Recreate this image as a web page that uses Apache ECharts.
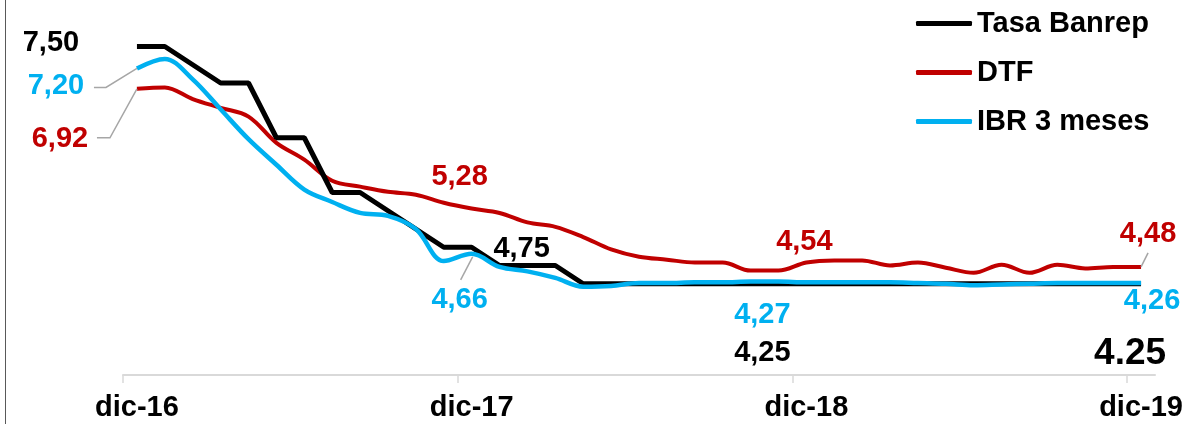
<!DOCTYPE html>
<html>
<head>
<meta charset="utf-8">
<script src="https://cdn.jsdelivr.net/npm/echarts@6/dist/echarts.min.js"></script>
<style>
html,body{margin:0;padding:0;background:#fff;}
#c{width:1204px;height:424px;}
</style>
</head>
<body>
<div id="c"></div>
<script>
// Months dic-16 .. dic-19 (monthly)
const categories = [
  'dic-16','ene-17','feb-17','mar-17','abr-17','may-17','jun-17','jul-17','ago-17','sep-17','oct-17','nov-17',
  'dic-17','ene-18','feb-18','mar-18','abr-18','may-18','jun-18','jul-18','ago-18','sep-18','oct-18','nov-18',
  'dic-18','ene-19','feb-19','mar-19','abr-19','may-19','jun-19','jul-19','ago-19','sep-19','oct-19','nov-19',
  'dic-19'
];
const tasaBanrep = [7.50,7.50,7.25,7.00,7.00,6.25,6.25,5.50,5.50,5.25,5.00,4.75,
  4.75,4.50,4.50,4.50,4.25,4.25,4.25,4.25,4.25,4.25,4.25,4.25,
  4.25,4.25,4.25,4.25,4.25,4.25,4.25,4.25,4.25,4.25,4.25,4.25,4.25];
const dtf = [6.92,6.94,6.78,6.66,6.54,6.18,5.95,5.66,5.58,5.51,5.47,5.36,
  5.28,5.22,5.09,5.03,4.89,4.72,4.62,4.58,4.54,4.54,4.43,4.43,
  4.54,4.57,4.57,4.50,4.54,4.47,4.40,4.51,4.40,4.51,4.46,4.48,4.48];
const ibr3m = [7.20,7.33,7.05,6.64,6.23,5.88,5.54,5.37,5.22,5.18,5.00,4.56,
  4.66,4.48,4.42,4.33,4.21,4.22,4.26,4.26,4.27,4.27,4.28,4.28,
  4.27,4.27,4.27,4.27,4.26,4.25,4.23,4.24,4.25,4.26,4.26,4.26,4.26];
const seriesNames = ['Tasa Banrep','DTF','IBR 3 meses'];
const tickPositions = [-0.5, 11.5, 23.5, 35.5]; // boundaries before dic-16, dic-17, dic-18, dic-19
const colors = ['#000000','#C00000','#00B0F0'];
const bigLabel = '4.25';

const FONT = '"Liberation Sans", Arial, sans-serif';
const chart = echarts.init(document.getElementById('c'), null, {renderer:'canvas'});

const option = {
  animation:false,
  backgroundColor:'#ffffff',
  grid:{left:123, right:49, top:10, bottom:49},
  legend:{
    orient:'vertical', left:916, top:9, itemGap:20, padding:0,
    itemWidth:56, itemHeight:5, icon:'roundRect',
    textStyle:{fontFamily:FONT, fontSize:29, fontWeight:'bold', color:'#000', lineHeight:29},
    data:seriesNames
  },
  xAxis:[{
    type:'category', data:categories, boundaryGap:true,
    axisLine:{lineStyle:{color:'#D9D9D9', width:2}},
    axisTick:{show:false},
    axisLabel:{interval:function(i){return i%12===0;}, margin:18,
      fontFamily:FONT, fontSize:29, fontWeight:'bold', color:'#000'}
  },{
    type:'value', min:-0.5, max:36.5, position:'bottom',
    axisLine:{show:false},
    splitLine:{show:false},
    axisLabel:{show:false},
    axisTick:{show:true, customValues:tickPositions, length:8, lineStyle:{color:'#D9D9D9', width:1.5}}
  }],
  yAxis:{type:'value', min:3, max:8, show:false, splitLine:{show:false}},
  series:[
    {name:seriesNames[0], type:'line', data:tasaBanrep, smooth:false, symbol:'none', z:3,
     lineStyle:{color:colors[0], width:5}, itemStyle:{color:colors[0]}},
    {name:seriesNames[1], type:'line', data:dtf, smooth:0.35, symbol:'none', z:2,
     lineStyle:{color:colors[1], width:4}, itemStyle:{color:colors[1]}},
    {name:seriesNames[2], type:'line', data:ibr3m, smooth:0.35, symbol:'none', z:4,
     lineStyle:{color:colors[2], width:4.5}, itemStyle:{color:colors[2]}}
  ]
};
chart.setOption(option);

// Data labels positioned relative to the data points
const labels = [
  // [seriesIndex, dataIndex, dx, dy, leader points (relative to point) or null]
  [0, 0, -86, -4, null],
  [2, 0, -81, 18, [[0,0],[-31,19],[-43,19]]],
  [1, 0, -77, 50, [[0,0],[-27,49],[-40,49]]],
  [1, 12, -12, -32, null],
  [0, 12, 50, 2, null],
  [2, 12, -12, 46, [[1,3],[-11,26]]],
  [1, 24, -2, -21, null],
  [2, 24, -44, 33, null],
  [0, 24, -44, 69, null],
  [1, 36, 7, -33, [[0,0],[7,-14]]],
  [2, 36, 11, 18, null]
];
const dataArr = [tasaBanrep, dtf, ibr3m];
const graphics = [];
graphics.push({type:'line', shape:{x1:5.5,y1:0,x2:5.5,y2:424}, style:{stroke:'#595959', lineWidth:1}, silent:true});
labels.forEach(function(l){
  const v = dataArr[l[0]][l[1]];
  const p = chart.convertToPixel({seriesIndex:l[0]}, [l[1], v]);
  const txt = v.toFixed(2).replace('.', ',');
  if (l[4]) {
    graphics.push({type:'polyline', z:10, shape:{points:l[4].map(function(q){return [p[0]+q[0], p[1]+q[1]];})},
      style:{stroke:'#A6A6A6', lineWidth:1.5, fill:null}, silent:true});
  }
  graphics.push({type:'text', z:10, x:p[0]+l[2], y:p[1]+l[3],
    style:{text:txt, fill:colors[l[0]], font:'bold 29px ' + FONT, textAlign:'center', textVerticalAlign:'middle'}});
});
// big final value label
(function(){
  const p = chart.convertToPixel({seriesIndex:0}, [36, tasaBanrep[36]]);
  graphics.push({type:'text', z:10, x:p[0]-11, y:p[1]+70,
    style:{text:bigLabel, fill:'#000', font:'bold 37px ' + FONT, textAlign:'center', textVerticalAlign:'middle'}});
})();
chart.setOption({graphic:graphics});
</script>
</body>
</html>
